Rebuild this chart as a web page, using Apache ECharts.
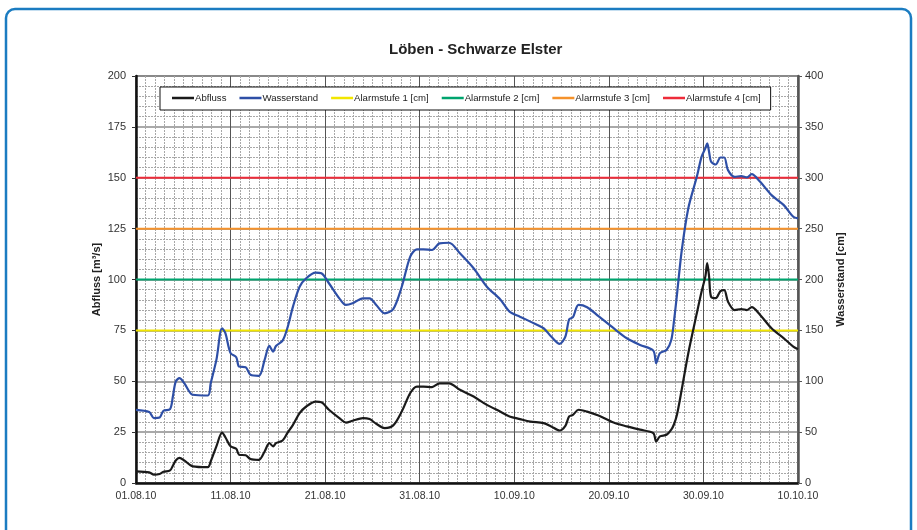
<!DOCTYPE html>
<html>
<head>
<meta charset="utf-8">
<script src="https://cdn.jsdelivr.net/npm/echarts@6/dist/echarts.min.js"></script>
<style>
  html, body { margin: 0; padding: 0; background: #fff; }
  #chart { width: 917px; height: 530px; }
</style>
</head>
<body>
<div id="chart"></div>
<script>
// x ticks every 10 days, from 01.08.10
const dateLabels = ['01.08.10', '11.08.10', '21.08.10', '31.08.10', '10.09.10', '20.09.10', '30.09.10', '10.10.10'];

// day offset since 01.08.10
const days = [0, 1.4, 1.9, 2.5, 2.9, 3.6, 3.9, 4.2, 4.6, 5.1, 6.0, 7.6, 7.9, 8.5, 9.1, 9.45, 10.0, 10.6, 10.9, 11.6,
  12.1, 13.0, 13.6, 14.1, 14.5, 14.8, 15.5, 16.0, 16.6, 17.3, 18.0, 19.0, 19.6, 20.4, 21.5, 22.2, 22.9, 24.0, 24.7, 25.4,
  26.3, 27.2, 28.1, 29.0, 29.7, 30.4, 31.3, 32.1, 33.1, 34.25, 35.7, 37.1, 38.5, 39.5, 40.6, 41.7, 43.1, 43.9, 44.8, 45.4,
  45.8, 46.2, 46.8, 47.7, 48.9, 50.5, 51.9, 53.3, 54.7, 55.0, 55.4, 56.1, 56.6, 56.9, 57.2, 57.7, 58.4, 59.3, 59.8, 60.2,
  60.4, 60.6, 60.8, 61.3, 61.8, 62.2, 62.6, 63.3, 64.0, 64.6, 65.1, 66.0, 67.2, 68.5, 69.5, 70];

// Abfluss [m³/s]
const abfluss = [5.7, 5.2, 4.1, 4.4, 5.5, 6.2, 8.5, 11.1, 12.3, 11.1, 8.2, 7.8, 10.6, 18, 24.8, 22.5, 18, 16.8, 13.9, 13.6,
  11.8, 11.4, 15.5, 19.6, 18, 19.6, 20.9, 24.5, 28.6, 34.3, 37.6, 40, 39.7, 36, 31.9, 29.7, 30.6, 31.9, 31.4, 29.1,
  27, 28.3, 35.1, 44.2, 47.4, 47.4, 47.1, 49, 49, 45.8, 42.5, 38.4, 35.1, 32.7, 31.4, 30.2, 29.4, 27.8, 25.8, 28.1,
  32.7, 33.5, 36, 35.1, 33.2, 29.7, 27.8, 26.2, 24.5, 20.4, 22.9, 23.7, 26.2, 29, 33.5, 45.8, 63.8, 83.4, 94, 101.4,
  108, 101.4, 91.6, 90.8, 94.3, 94.8, 89.1, 85, 85.5, 85, 86.4, 82.6, 76, 71.1, 67, 65.7];

// Wasserstand [cm]
const wasserstand = [71.9, 69.7, 63.8, 64.4, 71, 72.6, 85, 99.7, 103, 98.1, 86.7, 86, 98.1, 121, 152.1, 147.2, 127.6, 123.6, 114.4, 113.8,
  106.3, 105.3, 121, 134.7, 129.1, 134.7, 139.9, 152.1, 173.3, 192.9, 201.2, 206.7, 206.1, 196.3, 181.5, 175, 176.6, 181.5, 181.5, 175,
  166.8, 170.8, 192.9, 222.4, 229.6, 229.6, 229, 235.5, 236.1, 225.7, 211, 192.9, 180.6, 168.4, 163.5, 158.6, 152.1, 143.9, 136.7, 143.9,
  160.9, 162.9, 175, 172.7, 164, 152.1, 142.3, 135.7, 130.1, 117.8, 127.6, 130.8, 140.6, 160.3, 185, 228, 270, 300.9, 320.5, 328.8,
  333.7, 325.4, 316, 313, 319.9, 319.9, 307.5, 300.9, 301.6, 300.3, 303.5, 296, 282.9, 273.1, 261.6, 260];

// Alarmstufen 1-4 [cm]
const alarmNames = ['Alarmstufe 1 [cm]', 'Alarmstufe 2 [cm]', 'Alarmstufe 3 [cm]', 'Alarmstufe 4 [cm]'];
const alarmLevels = [150, 200, 250, 300];
const alarmColors = ['#f2e600', '#00a46e', '#f5922b', '#ee2c3a'];

const FONT = 'Liberation Sans, Arial, sans-serif';
const chart = echarts.init(document.getElementById('chart'));

const alarmSeries = alarmLevels.map((lvl, i) => ({
  name: alarmNames[i],
  type: 'line',
  yAxisIndex: 1,
  symbol: 'none',
  silent: true,
  lineStyle: { color: alarmColors[i], width: 2 },
  itemStyle: { color: alarmColors[i] },
  data: [[0, lvl], [70, lvl]],
  z: 3
}));

const option = {
  backgroundColor: '#fff',
  animation: false,
  textStyle: { fontFamily: FONT },
  title: {
    text: 'Löben - Schwarze Elster',
    left: 384,
    top: 37,
    textStyle: { fontFamily: FONT, fontSize: 15, fontWeight: 'bold', color: '#222' }
  },
  graphic: [{
    type: 'rect',
    shape: { x: 6, y: 9, width: 905, height: 560, r: 9 },
    style: { fill: 'none', stroke: '#1b7cc1', lineWidth: 2.5 },
    silent: true
  }],
  legend: {
    left: 160,
    top: 87,
    orient: 'horizontal',
    backgroundColor: '#fff',
    borderColor: '#111',
    borderWidth: 1,
    borderRadius: 0,
    padding: [6, 10, 7, 12],
    itemGap: 13,
    itemWidth: 22,
    itemHeight: 2.5,
    icon: 'rect',
    textStyle: { fontFamily: FONT, fontSize: 9.6, color: '#222', padding: [0, 0, 0, -4] },
    data: ['Abfluss', 'Wasserstand'].concat(alarmNames)
  },
  grid: {
    left: 136, right: 119, top: 76, bottom: 47,
    show: true, borderColor: '#555', borderWidth: 1.5
  },
  xAxis: {
    type: 'value',
    min: 0, max: 70, interval: 10,
    axisLine: { show: true, onZero: false, lineStyle: { color: '#111', width: 2.5 } },
    axisTick: { show: false },
    axisLabel: {
      fontFamily: FONT, fontSize: 10.5, color: '#333', margin: 8,
      formatter: v => dateLabels[Math.round(v / 10)]
    },
    splitLine: { show: true, lineStyle: { color: '#555', width: 1 } },
    minorTick: { show: false, splitNumber: 10 },
    minorSplitLine: { show: true, lineStyle: { color: '#a8a8a8', width: 1, type: [2, 1] } }
  },
  yAxis: [{
    type: 'value',
    min: 0, max: 200, interval: 25,
    name: 'Abfluss [m³/s]',
    nameLocation: 'middle',
    nameGap: 34,
    nameMoveOverlap: false,
    nameTextStyle: { fontFamily: FONT, fontSize: 11, fontWeight: 'bold', color: '#222' },
    axisLine: { show: true, lineStyle: { color: '#111', width: 2.5 } },
    axisTick: { show: true, length: 4, lineStyle: { color: '#333' } },
    axisLabel: { fontFamily: FONT, fontSize: 11, color: '#333', margin: 10 },
    splitLine: { show: true, lineStyle: { color: '#8c8c8c', width: 1.5 } },
    minorTick: { show: false, splitNumber: 5 },
    minorSplitLine: { show: true, lineStyle: { color: '#a8a8a8', width: 1, type: [2, 1] } }
  }, {
    type: 'value',
    min: 0, max: 400, interval: 50,
    name: 'Wasserstand [cm]',
    nameLocation: 'middle',
    nameGap: 37,
    nameMoveOverlap: false,
    nameTextStyle: { fontFamily: FONT, fontSize: 11, fontWeight: 'bold', color: '#222' },
    axisLine: { show: true, lineStyle: { color: '#555', width: 2.5 } },
    axisTick: { show: true, length: 4, lineStyle: { color: '#555' } },
    axisLabel: { fontFamily: FONT, fontSize: 11, color: '#333', margin: 7 },
    splitLine: { show: false }
  }],
  series: [{
    name: 'Abfluss',
    type: 'line',
    yAxisIndex: 0,
    symbol: 'none',
    smooth: 0.3,
    lineStyle: { color: '#1a1a1a', width: 2.2 },
    itemStyle: { color: '#1a1a1a' },
    data: days.map((d, i) => [d, abfluss[i]]),
    z: 5
  }, {
    name: 'Wasserstand',
    type: 'line',
    yAxisIndex: 1,
    symbol: 'none',
    smooth: 0.3,
    lineStyle: { color: '#2e4fa6', width: 2.2 },
    itemStyle: { color: '#2e4fa6' },
    data: days.map((d, i) => [d, wasserstand[i]]),
    z: 5
  }].concat(alarmSeries)
};

chart.setOption(option);
</script>
</body>
</html>
